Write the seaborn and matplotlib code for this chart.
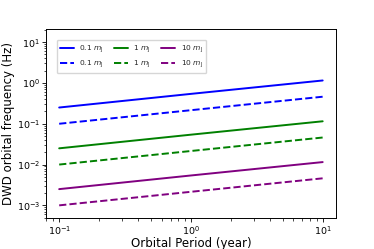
import matplotlib
matplotlib.use("Agg")
import matplotlib.pyplot as plt
import seaborn as sns
import pandas as pd

# orbital period (year) and DWD orbital frequency (Hz)
periods = [0.1, 1.0, 10.0]
freq_01_solid = [0.25, 0.54, 1.15]
freq_01_dashed = [0.10, 0.215, 0.46]
freq_1_solid = [0.025, 0.054, 0.115]
freq_1_dashed = [0.010, 0.0215, 0.046]
freq_10_solid = [0.0025, 0.0054, 0.0115]
freq_10_dashed = [0.0010, 0.00215, 0.0046]

series = [
    (r"0.1 $m_{\rm J}$", freq_01_solid, "blue", "-"),
    (r"0.1 $m_{\rm J}$", freq_01_dashed, "blue", "--"),
    (r"1 $m_{\rm J}$", freq_1_solid, "green", "-"),
    (r"1 $m_{\rm J}$", freq_1_dashed, "green", "--"),
    (r"10 $m_{\rm J}$", freq_10_solid, "purple", "-"),
    (r"10 $m_{\rm J}$", freq_10_dashed, "purple", "--"),
]

sns.set_style("ticks")
plt.rcParams['font.family'] = ['DejaVu Sans']

fig = plt.figure(figsize=(3.74, 2.49), dpi=100)
ax = fig.add_axes([0.123, 0.1245, 0.775, 0.759])

for label, vals, color, ls in series:
    df = pd.DataFrame({"period": periods, "freq": vals})
    sns.lineplot(data=df, x="period", y="freq", ax=ax, color=color,
                 linestyle=ls, linewidth=1.4, label=label)

ax.set_xscale("log")
ax.set_yscale("log")
ax.set_ylim(4.9e-4, 21)
ax.set_xlabel("Orbital Period (year)", fontsize=8.5, labelpad=0, color="black")
ax.set_ylabel("DWD orbital frequency (Hz)", fontsize=8.5, labelpad=1, color="black")
ax.tick_params(axis="both", which="major", labelsize=6.8, length=3.2, width=0.6,
               pad=1.2, labelcolor="black", color="black")
ax.tick_params(axis="both", which="minor", length=1.8, width=0.5, color="black")
for sp in ax.spines.values():
    sp.set_linewidth(0.7)
    sp.set_color("black")

ax.legend(loc="upper left", ncol=3, fontsize=5.4, frameon=True,
          handlelength=1.85, handletextpad=0.7, columnspacing=1.4,
          borderpad=0.45, labelspacing=0.45, borderaxespad=0,
          bbox_to_anchor=(0.037, 0.942))

plt.savefig("out.png", dpi=100)
